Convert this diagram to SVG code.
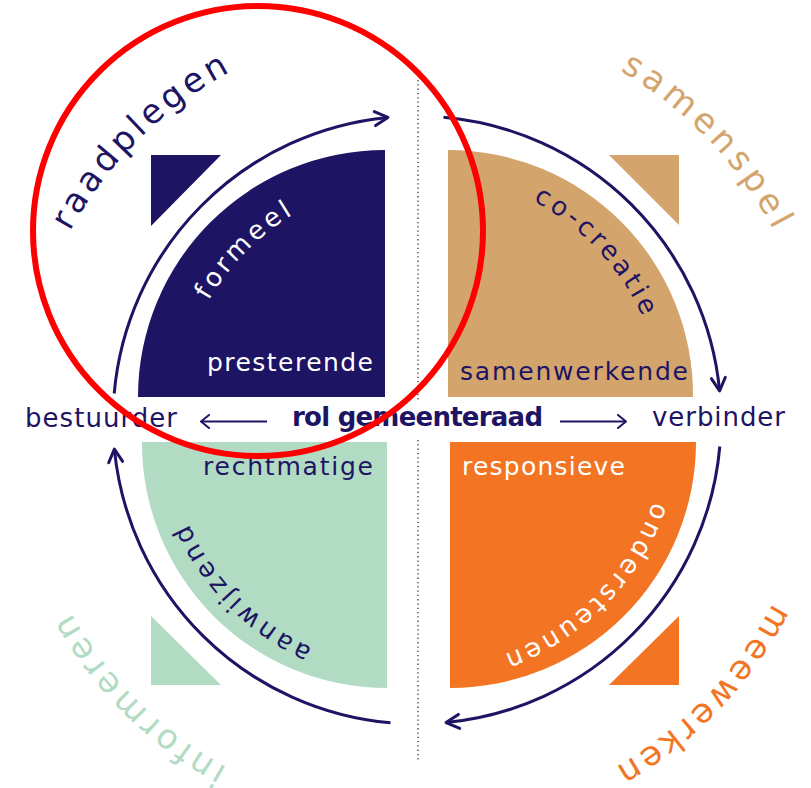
<svg xmlns="http://www.w3.org/2000/svg" width="811" height="788" viewBox="0 0 811 788">
<defs>
<style>
text { font-family: "DejaVu Sans", "Liberation Sans", sans-serif; }
.outer { font-size: 34px; letter-spacing: 4px; }
.inner { font-size: 26px; letter-spacing: 3.6px; }
.lbl { font-size: 25px; }
.row { font-size: 26px; fill: #1e1464; }
.navy { fill: #1e1464; }
.tan { fill: #d4a46d; }
.green { fill: #b2dbc4; }
.orange { fill: #f37423; }
.white { fill: #ffffff; }
.arc { fill: none; stroke: #1e1464; stroke-width: 3; marker-end: url(#chev); }
.harrow { fill: none; stroke: #1e1464; stroke-width: 2; marker-end: url(#chevs); }
</style>
<marker id="chev" markerUnits="userSpaceOnUse" markerWidth="20" markerHeight="20" viewBox="-16 -10 20 20" refX="0" refY="0" orient="auto">
<path d="M-13,-7 L0,0 L-13,7" fill="none" stroke="#1e1464" stroke-width="3" stroke-linecap="round" stroke-linejoin="round"/>
</marker>
<marker id="chevs" markerUnits="userSpaceOnUse" markerWidth="16" markerHeight="16" viewBox="-12 -8 16 16" refX="0" refY="0" orient="auto">
<path d="M-8,-6.5 L0,0 L-8,6.5" fill="none" stroke="#1e1464" stroke-width="2" stroke-linecap="round" stroke-linejoin="round"/>
</marker>
<path id="r395" d="M68.59,-389.00 A395,395 0 0 1 68.59,389.00"/>
<path id="r404" d="M70.15,-397.86 A404,404 0 0 1 70.15,397.86"/>
<path id="r396" d="M68.77,-389.99 A396,396 0 0 1 68.77,389.99"/>
<path id="r400" d="M69.46,-393.92 A400,400 0 0 1 69.46,393.92"/>
<path id="r240" d="M41.68,-236.35 A240,240 0 0 1 41.68,236.35"/>
<path id="r248" d="M43.07,-244.23 A248,248 0 0 1 43.07,244.23"/>
<path id="r251" d="M43.59,-247.19 A251,251 0 0 1 43.59,247.19"/>
<path id="r250" d="M43.41,-246.20 A250,250 0 0 1 43.41,246.20"/>
</defs>
<rect width="811" height="788" fill="#ffffff"/>

<g id="connectors">
<line x1="418" y1="80" x2="418" y2="400" stroke="#333" stroke-width="1.3" stroke-dasharray="1.3 3"/>
<line x1="418" y1="440" x2="418" y2="760" stroke="#333" stroke-width="1.3" stroke-dasharray="1.3 3"/>
<path class="arc" d="M114.2,393.5 A304,304 0 0 1 387.9,117.4"/>
<path class="arc" d="M443.5,117.2 A304,304 0 0 1 719.6,390.9"/>
<path class="arc" d="M719.8,446.5 A304,304 0 0 1 446.1,722.6"/>
<path class="arc" d="M390.5,722.8 A304,304 0 0 1 114.4,449.1"/>
<line class="harrow" x1="267" y1="421.5" x2="201" y2="421.5"/>
<line class="harrow" x1="560" y1="421.5" x2="626" y2="421.5"/>
</g>

<g id="quadrant-presterende">
<path class="navy" d="M385,150 L385,397 L138,397 A247,247 0 0 1 385,150 Z"/>
<polygon class="navy" points="151,155 221,155 151,226"/>
<text class="lbl white" x="207" y="371" textLength="166">presterende</text>
<g transform="translate(417,420) rotate(-135.3)"><text class="inner white" text-anchor="middle"><textPath href="#r240" startOffset="50%">formeel</textPath></text></g>
</g>

<g id="quadrant-samenwerkende">
<path class="tan" d="M448,150 L448,397 L693,397 A245,245 0 0 0 448,150 Z"/>
<polygon class="tan" points="609,155 679,155 679,225"/>
<text class="lbl navy" x="460" y="380" textLength="228">samenwerkende</text>
<g transform="translate(417,420) rotate(-43)"><text class="inner navy" text-anchor="middle"><textPath href="#r248" startOffset="50%">co-creatie</textPath></text></g>
</g>

<g id="quadrant-rechtmatige">
<path class="green" d="M142,442 L387,442 L387,688 A245,245 0 0 1 142,442 Z"/>
<polygon class="green" points="151,616 151,685 221,685"/>
<text class="lbl navy" x="203" y="475" textLength="170">rechtmatige</text>
<g transform="translate(417,420) rotate(135.5)"><text class="inner navy" text-anchor="middle"><textPath href="#r251" startOffset="50%">aanwijzend</textPath></text></g>
</g>

<g id="quadrant-responsieve">
<path class="orange" d="M450,442 L696,442 A246,246 0 0 1 450,688 Z"/>
<polygon class="orange" points="679,616 679,685 609,685"/>
<text class="lbl white" x="462" y="475" textLength="163">responsieve</text>
<g transform="translate(417,420) rotate(44.7)"><text class="inner white" text-anchor="middle"><textPath href="#r250" startOffset="50%">ondersteunen</textPath></text></g>
</g>

<g id="label-raadplegen">
<g transform="translate(417,420) rotate(-134.6)"><text class="outer navy" text-anchor="middle"><textPath href="#r395" startOffset="50%">raadplegen</textPath></text></g>
</g>
<g id="label-samenspel">
<g transform="translate(417,420) rotate(-43.6)"><text class="outer tan" text-anchor="middle" style="letter-spacing:5px"><textPath href="#r404" startOffset="50%">samenspel</textPath></text></g>
</g>
<g id="label-informeren">
<g transform="translate(417,420) rotate(135)"><text class="outer green" text-anchor="middle"><textPath href="#r396" startOffset="50%">informeren</textPath></text></g>
</g>
<g id="label-meewerken">
<g transform="translate(417,420) rotate(44)"><text class="outer orange" text-anchor="middle"><textPath href="#r400" startOffset="50%">meewerken</textPath></text></g>
</g>

<g id="center-row">
<text class="row" x="25" y="427" textLength="152">bestuurder</text>
<text class="row" x="292" y="426" font-weight="bold" textLength="251">rol gemeenteraad</text>
<text class="row" x="652" y="426" textLength="133">verbinder</text>
</g>

<g id="annotation">
<circle cx="258" cy="231" r="225" fill="none" stroke="#ff0000" stroke-width="6"/>
</g>
</svg>
